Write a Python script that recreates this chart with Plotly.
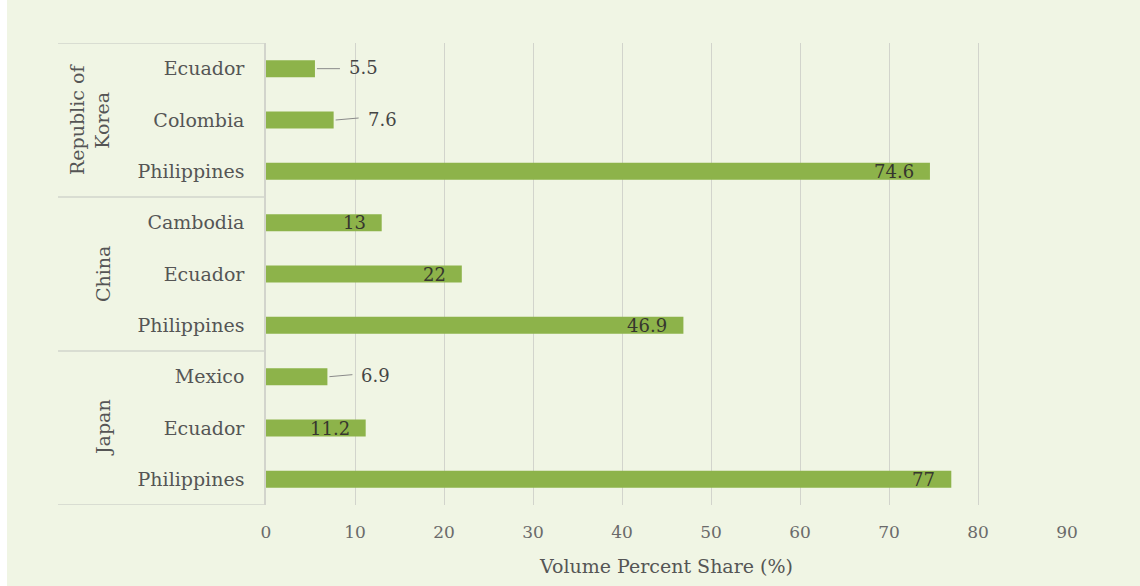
import plotly.graph_objects as go

# Importing market -> supplying country -> volume share (%), listed top to bottom
markets = ["Republic of Korea", "Republic of Korea", "Republic of Korea",
           "China", "China", "China",
           "Japan", "Japan", "Japan"]
suppliers = ["Ecuador", "Colombia", "Philippines",
             "Cambodia", "Ecuador", "Philippines",
             "Mexico", "Ecuador", "Philippines"]
shares = [5.5, 7.6, 74.6, 13, 22, 46.9, 6.9, 11.2, 77]
market_labels = {"Republic of Korea": "Republic of<br>Korea", "China": "China", "Japan": "Japan"}
x_ticks = [0, 10, 20, 30, 40, 50, 60, 70, 80, 90]

BAR = "rgb(141,179,74)"
BG = "#f0f5e4"
GRID = "#d2d4cc"
TEXT = "#555555"
LABEL = "#36362e"
FONT = "DejaVu Serif"
OUTSIDE_BELOW = 10  # shorter bars get their label outside with a leader line

W, H = 1140, 586
ML, MR, MT, MB = 266, 73, 43, 81
plot_w = W - ML - MR

keys = [f"{m} | {s}" for m, s in zip(markets, suppliers)]

fig = go.Figure(go.Bar(
    x=shares, y=keys, orientation="h",
    marker=dict(color=BAR, line=dict(width=0)),
    hoverinfo="x+y",
))

annotations = []
shapes = []

# value labels
for k, v in zip(keys, shares):
    txt = f"{v:g}"
    if v < OUTSIDE_BELOW:
        annotations.append(dict(x=v, y=k, xref="x", yref="y", text=txt, showarrow=False,
                                xanchor="left", yanchor="middle", xshift=32, yshift=1,
                                font=dict(family=FONT, size=18, color="#454545")))
        rise = 0 if v == min(shares) else 2
        shapes.append(dict(type="line", xref="x", yref="y", xsizemode="pixel", ysizemode="pixel",
                           xanchor=v, yanchor=k, x0=2, x1=25, y0=0, y1=rise,
                           line=dict(color="#8a8a8a", width=1)))
    else:
        annotations.append(dict(x=v, y=k, xref="x", yref="y", text=txt, showarrow=False,
                                xanchor="right", yanchor="middle", xshift=-14, yshift=0,
                                font=dict(family=FONT, size=18, color=LABEL)))

# market group labels and separators of the category table
table_left = (58 - ML) / plot_w
group_names = list(dict.fromkeys(markets))
pos = 0
for g in group_names:
    n = markets.count(g)
    mid = pos + (n - 1) / 2
    is_two_line = "<br>" in market_labels[g]
    annotations.append(dict(x=((89 if is_two_line else 103) - ML) / plot_w, y=mid,
                            xref="paper", yref="y", text=market_labels[g], showarrow=False,
                            textangle=-90, xanchor="center", yanchor="middle",
                            font=dict(family=FONT, size=19, color=TEXT)))
    shapes.append(dict(type="line", xref="paper", yref="y", x0=table_left, x1=0,
                       y0=pos - 0.5, y1=pos - 0.5, line=dict(color=GRID, width=1.5)))
    pos += n
shapes.append(dict(type="line", xref="paper", yref="y", x0=table_left, x1=0,
                   y0=pos - 0.5, y1=pos - 0.5, line=dict(color=GRID, width=1.5)))

# thin white border strip on the left edge
shapes.append(dict(type="rect", xref="paper", yref="paper", x0=-ML / plot_w - 0.01,
                   x1=(7 - ML) / plot_w, y0=-0.5, y1=1.5, fillcolor="white",
                   line=dict(width=0), layer="below"))

fig.update_layout(
    width=W, height=H,
    margin=dict(l=ML, r=MR, t=MT, b=MB, pad=0),
    paper_bgcolor=BG, plot_bgcolor=BG,
    bargap=0.67,
    showlegend=False,
    font=dict(family=FONT, color=TEXT),
    annotations=annotations,
    shapes=shapes,
    xaxis=dict(
        range=[0, 90], tickvals=x_ticks, ticktext=[str(t) for t in x_ticks],
        showgrid=True, gridcolor=GRID, gridwidth=1, zeroline=False,
        showline=False, ticks="", ticklabelstandoff=15,
        tickfont=dict(family=FONT, size=17, color="#6a6a6a"),
        title=dict(text="Volume Percent Share (%)", standoff=18,
                   font=dict(family=FONT, size=19, color=TEXT)),
        fixedrange=True,
    ),
    yaxis=dict(
        type="category", categoryorder="array", categoryarray=keys,
        range=[len(keys) - 0.5, -0.5],
        tickvals=keys, ticktext=suppliers,
        showgrid=False, zeroline=False,
        showline=True, linecolor=GRID, linewidth=1.5,
        ticks="", ticklabelstandoff=16,
        tickfont=dict(family=FONT, size=19, color=TEXT),
        fixedrange=True,
    ),
)

fig.write_html("out.html")
